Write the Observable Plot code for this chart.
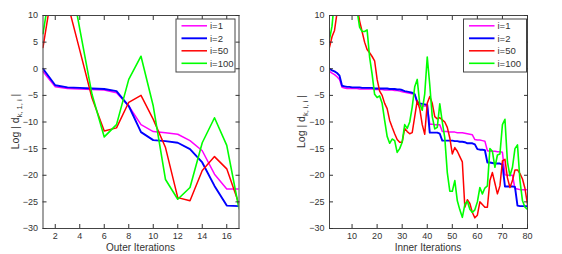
<!DOCTYPE html>
<html>
<head>
<meta charset="utf-8">
<script src="https://cdn.jsdelivr.net/npm/d3@7"></script>
<script src="https://cdn.jsdelivr.net/npm/@observablehq/plot@0.6"></script>
<style>
  body { margin: 0; background: #fff; }
  #wrap { display: flex; width: 562px; height: 254px; }
  .panel { position: relative; width: 281px; height: 254px; }
</style>
</head>
<body>
<div id="wrap"><div class="panel" id="left"></div><div class="panel" id="right"></div></div>
<script>
// ---- data ----
const seriesLabels = ["i=1", "i=2", "i=50", "i=100"];
const seriesColors = ["#ff00ff", "#0000ff", "#ff0000", "#00ff00"];
const yTicks = [-30, -25, -20, -15, -10, -5, 0, 5, 10];
const outerTicks = [2, 4, 6, 8, 10, 12, 14, 16];
const innerTicks = [10, 20, 30, 40, 50, 60, 70, 80];

const outerIter = [1, 2, 3, 4, 5, 6, 7, 8, 9, 10, 11, 12, 13, 14, 15, 16, 17];
const outer_i1   = [-0.5, -3.4, -3.7, -3.8, -3.9, -4.0, -4.5, -7.0, -10.5, -11.8, -12.0, -12.3, -13.5, -15.4, -19.8, -22.6, -22.6];
const outer_i2   = [0.0, -3.1, -3.5, -3.6, -3.7, -3.8, -4.2, -7.0, -11.9, -13.4, -13.6, -13.9, -15.1, -17.6, -22.0, -25.7, -25.8];
const outer_i50  = [4.0, 18.3, 12.4, 3.5, -5.5, -11.7, -11.1, -6.3, -5.0, -9.5, -14.8, -24.2, -24.8, -19.1, -16.5, -18.8, -25.4];
const outer_i100 = [6.6, 21.0, 20.0, 7.5, -4.8, -12.8, -10.5, -2.0, 2.35, -7.0, -20.8, -24.5, -22.3, -13.9, -9.2, -14.4, -26.3];

const innerIter = Array.from({length: 80}, (_, k) => k + 1);
const inner_i1 = [
  -0.5, -0.8, -1.1, -1.5, -2.0,   -3.5, -3.6, -3.7, -3.7, -3.7,
  -3.7, -3.7, -3.8, -3.8, -3.8,   -3.8, -3.8, -3.8, -3.9, -3.9,
  -3.9, -3.9, -4.0, -4.0, -4.0,   -4.0, -4.1, -4.1, -4.2, -4.3,
  -4.4, -4.5, -4.6, -4.7, -4.8,   -6.5, -6.8, -7.0, -7.0, -7.0,
  -10.4, -10.4, -10.5, -10.5, -10.5, -11.8, -11.8, -11.8, -11.9, -11.9,
  -11.9, -12.0, -12.0, -12.0, -12.1, -12.2, -12.3, -12.4, -13.3, -13.4,
  -13.4, -13.5, -13.6, -15.4, -15.5, -15.5, -15.5, -15.6, -15.6, -15.7,
  -19.9, -20.0, -20.0, -20.0, -22.5, -22.6, -22.7, -22.7, -22.7, -22.7
];
const inner_i2 = [
  0.0, -0.3, -0.5, -0.8, -1.3,    -3.2, -3.3, -3.4, -3.4, -3.5,
  -3.5, -3.5, -3.5, -3.6, -3.6,   -3.6, -3.6, -3.6, -3.7, -3.7,
  -3.7, -3.7, -3.7, -3.7, -3.8,   -3.8, -3.8, -3.9, -3.9, -4.0,
  -4.2, -4.3, -4.4, -4.5, -4.8,   -6.2, -6.5, -6.6, -6.7, -6.8,
  -12.0, -12.0, -12.0, -12.0, -12.2, -13.5, -13.5, -13.5, -13.5, -13.5,
  -13.6, -13.6, -13.7, -13.7, -13.8, -14.0, -14.0, -14.0, -14.2, -15.1,
  -15.2, -15.2, -15.3, -17.6, -17.6, -17.7, -17.8, -17.8, -17.8, -18.0,
  -22.1, -22.1, -22.1, -22.1, -22.2, -25.7, -25.8, -25.8, -25.8, -25.8
];
const inner_i50 = [
  4.0, 6.0, 7.2, 10.5, 13.0,      14.0, 15.0, 15.0, 15.0, 14.5,
  13.5, 12.0, 9.0, 7.0, 5.0,      3.6, 3.0, 2.3, 1.5, -2.0,
  -4.2, -5.0, -6.5, -7.5, -9.7,   -11.0, -12.2, -13.3, -13.8, -13.8,
  -11.2, -11.8, -12.2, -12.0, -9.0, -6.0, -7.5, -10.5, -12.3, -6.5,
  -5.2, -6.5, -9.0, -9.4, -9.2,   -9.6, -10.0, -11.0, -13.0, -16.0,
  -14.8, -15.5, -16.5, -17.5, -26.0, -24.6, -25.3, -27.0, -28.0, -27.5,
  -25.0, -25.5, -26.0, -26.0, -21.0, -19.5, -21.5, -23.5, -22.0, -17.3,
  -17.0, -20.5, -22.3, -21.0, -19.0, -19.0, -19.7, -20.7, -22.5, -25.5
];
const inner_i100 = [
  5.5, 8.0, 13.0, 16.0, 17.0,     17.0, 17.0, 16.0, 15.0, 14.0,
  13.0, 11.0, 7.8, 7.0, 7.0,      7.3, 2.2, -1.0, -4.8, -5.4,
  -5.1, -6.5, -9.7, -12.7, -14.0, -13.2, -13.5, -15.7, -15.0, -13.8,
  -10.5, -11.2, -10.0, -7.2, -3.4, -2.0, -6.6, -7.8, -4.7, 2.2,
  -3.0, -9.0, -11.3, -11.0, -6.6, -10.0, -13.0, -19.5, -23.0, -23.0,
  -21.0, -24.8, -26.5, -27.9, -25.5, -24.9, -26.4, -27.0, -26.5, -25.0,
  -22.3, -23.5, -22.4, -22.0, -15.0, -15.5, -18.5, -16.2, -16.0, -10.5,
  -9.5, -17.5, -20.1, -18.5, -15.0, -14.3, -21.0, -24.8, -26.0, -26.4
];

// ---- drawing ----
const FONT = "'Liberation Sans', Arial, Helvetica, sans-serif";
const W = 281, H = 254, MT = 15, MB = 26;

function makePanel(el, {iters, series, xDomain, xTicks, ml, mr, xLabel, ySub, legend}) {
  const rows = [];
  series.forEach((vals, s) => vals.forEach((v, j) => rows.push({x: iters[j], y: v, s: seriesLabels[s]})));
  const widths = [1.5, 1.9, 1.5, 1.6];
  const lineMarks = seriesLabels.map((lab, s) =>
    Plot.line(rows.filter(r => r.s === lab), {x: "x", y: "y", stroke: seriesColors[s], strokeWidth: widths[s], clip: true})
  );
  const svg = Plot.plot({
    width: W, height: H,
    marginLeft: ml, marginRight: mr, marginTop: MT, marginBottom: MB,
    style: {fontFamily: FONT, fontSize: "9px", background: "white", color: "#333", overflow: "visible"},
    x: {domain: xDomain},
    y: {domain: [-30, 10]},
    marks: [
      ...lineMarks,
      Plot.frame({stroke: "#444"}),
      Plot.axisX(xTicks, {anchor: "bottom", tickSize: -4, tickPadding: 8, label: null}),
      Plot.axisX(xTicks, {anchor: "top", tickSize: -4, tickFormat: () => "", label: null}),
      Plot.axisY(yTicks, {anchor: "left", tickSize: -4, tickPadding: 9, label: null}),
      Plot.axisY(yTicks, {anchor: "right", tickSize: -4, tickFormat: () => "", label: null})
    ]
  });
  const s = d3.select(svg);
  // x label
  s.append("text")
    .attr("x", (ml + W - mr) / 2).attr("y", 250.5)
    .attr("text-anchor", "middle").attr("font-size", 10).attr("fill", "#333")
    .text(xLabel);
  // y label with subscript
  const t = s.append("text")
    .attr("transform", `translate(${ml - 24},${(MT + H - MB) / 2}) rotate(-90)`)
    .attr("text-anchor", "middle").attr("font-size", 10.5).attr("fill", "#333");
  t.append("tspan").text("Log | d");
  t.append("tspan").attr("font-size", 7.5).attr("dy", 3).text(ySub);
  t.append("tspan").attr("dy", -3).text(" |");
  // legend
  const lg = s.append("g");
  lg.append("rect").attr("x", legend.x).attr("y", 19).attr("width", legend.w).attr("height", 53)
    .attr("fill", "white").attr("stroke", "#444");
  seriesLabels.forEach((lab, i) => {
    const yy = 19 + 6.8 + 12.5 * i;
    lg.append("line").attr("x1", legend.x + 5.5).attr("x2", legend.x + 31).attr("y1", yy).attr("y2", yy)
      .attr("stroke", seriesColors[i]).attr("stroke-width", widths[i]);
    lg.append("text").attr("x", legend.x + 34).attr("y", yy).attr("dy", "0.35em")
      .attr("text-anchor", "start")
      .attr("font-size", 9.5).attr("fill", "#333").text(lab);
  });
  el.appendChild(svg);
}

makePanel(document.getElementById("left"), {
  iters: outerIter, series: [outer_i1, outer_i2, outer_i50, outer_i100],
  xDomain: [1, 17], xTicks: outerTicks, ml: 42.5, mr: 42.5,
  xLabel: "Outer Iterations", ySub: "k, 1, i", legend: {x: 176, w: 59}
});
makePanel(document.getElementById("right"), {
  iters: innerIter, series: [inner_i1, inner_i2, inner_i50, inner_i100],
  xDomain: [1, 80], xTicks: innerTicks, ml: 48, mr: 35,
  xLabel: "Inner Iterations", ySub: "k, i, i", legend: {x: 182.5, w: 63}
});
</script>
</body>
</html>
